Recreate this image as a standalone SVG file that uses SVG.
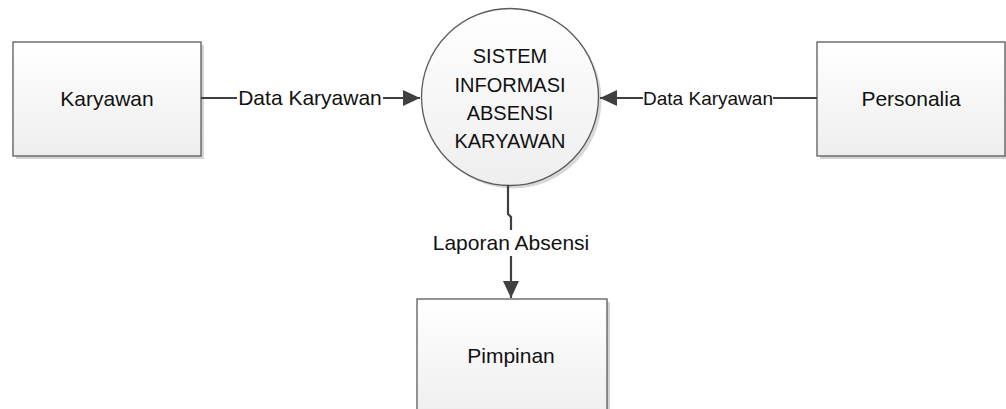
<svg xmlns="http://www.w3.org/2000/svg" width="1006" height="409" viewBox="0 0 1006 409">
  <style>
    .box { fill: url(#fillGrad); stroke: #5a5a5a; stroke-width: 1.3; }
    .shadow { fill: #d4d4d4; }
    .label { font-family: "Liberation Sans", Arial, sans-serif; font-size: 21px; fill: #111; text-anchor: middle; }
    .small { font-size: 19px; }
    .proc { font-size: 20px; }
    .flow { fill: none; stroke: #404040; stroke-width: 2.2; }
    .tag { fill: #ffffff; }
  </style>
  <defs>
    <linearGradient id="fillGrad" x1="0" y1="0" x2="0" y2="1">
      <stop offset="0" stop-color="#ffffff"/>
      <stop offset="1" stop-color="#eeeeee"/>
    </linearGradient>
    <marker id="arrow" markerUnits="userSpaceOnUse" markerWidth="18" markerHeight="16" refX="17" refY="8" orient="auto">
      <path d="M0,0 L17,8 L0,16 Z" fill="#404040"/>
    </marker>
  </defs>

  <rect width="1006" height="409" fill="#ffffff"/>

  <!-- external entity: Karyawan -->
  <g id="karyawan">
    <rect class="shadow" x="16" y="45" width="188" height="114"/>
    <rect class="box" x="13" y="42" width="188" height="114"/>
    <text class="label" x="107" y="106">Karyawan</text>
  </g>

  <!-- process -->
  <g id="sistem">
    <circle cx="513" cy="100" r="88.5" fill="#d8d8d8"/>
    <circle cx="510" cy="97" r="88.5" fill="url(#fillGrad)" stroke="#5a5a5a" stroke-width="1.3"/>
    <text class="label proc" x="510" y="63">SISTEM</text>
    <text class="label proc" x="510" y="92">INFORMASI</text>
    <text class="label proc" x="510" y="120">ABSENSI</text>
    <text class="label proc" x="510" y="148">KARYAWAN</text>
  </g>

  <!-- external entity: Personalia -->
  <g id="personalia">
    <rect class="shadow" x="820" y="45" width="188" height="114"/>
    <rect class="box" x="817" y="42" width="188" height="114"/>
    <text class="label" x="911" y="106">Personalia</text>
  </g>

  <!-- external entity: Pimpinan -->
  <g id="pimpinan">
    <rect class="shadow" x="420" y="302" width="190" height="120"/>
    <rect class="box" x="417" y="299" width="190" height="120"/>
    <text class="label" x="511" y="363">Pimpinan</text>
  </g>

  <!-- data flows -->
  <g id="flows">
    <path class="flow" d="M201,98 L420,98" marker-end="url(#arrow)"/>
    <rect class="tag" x="237" y="86" width="146" height="24"/>
    <text class="label" x="310" y="105">Data Karyawan</text>

    <path class="flow" d="M817,98 L600,98" marker-end="url(#arrow)"/>
    <rect class="tag" x="643" y="87" width="130" height="22"/>
    <text class="label small" x="708" y="105">Data Karyawan</text>

    <path class="flow" d="M508,185 L508,214 L511,217 L511,298" marker-end="url(#arrow)"/>
    <rect class="tag" x="430" y="230" width="163" height="26"/>
    <text class="label" x="511" y="250">Laporan Absensi</text>
  </g>
</svg>
